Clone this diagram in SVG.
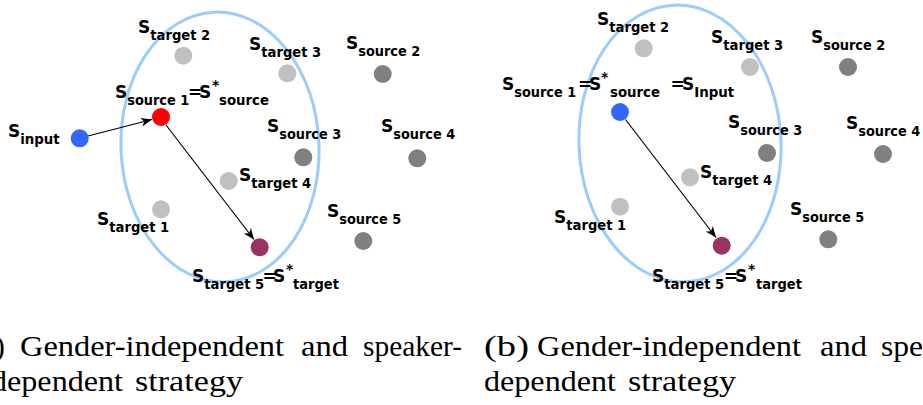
<svg xmlns="http://www.w3.org/2000/svg" width="923" height="405" viewBox="0 0 923 405">
<style>
.lbl{font-family:"DejaVu Sans",Verdana,sans-serif;font-weight:bold;font-size:17px;fill:#000}
.sub{font-size:14px}
.cap{font-family:"Liberation Serif","Times New Roman",serif;font-size:29.6px;fill:#000}
.ell{fill:none;stroke:#99ccff;stroke-width:3}
.lg{fill:#c0c0c0}.dg{fill:#808080}.bl{fill:#3366ff}.rd{fill:#ff0000}.pu{fill:#993366}
.arr{stroke:#000;stroke-width:1.2;fill:none;marker-end:url(#ah)}
</style>
<defs>
<marker id="ah" markerUnits="userSpaceOnUse" markerWidth="12" markerHeight="10" refX="11" refY="4.5" orient="auto" viewBox="0 0 12 10">
<path d="M0,0 L11,4.5 L0,9 L3,4.5 z" fill="#000"/>
</marker>
</defs>
<rect width="923" height="405" fill="#fff"/>

<!-- Panel a -->
<g id="panel-a">
<ellipse id="a-cluster" class="ell" cx="220" cy="147" rx="99" ry="135" transform="rotate(-2.5 220 147)"/>
<g id="a-connectors">
<line class="arr" x1="88" y1="136" x2="152" y2="119.5"/>
<line class="arr" x1="166" y1="125" x2="254" y2="239.5"/>
</g>
<g id="a-target2"><circle class="lg" cx="183.3" cy="55.7" r="9"/><text class="lbl" x="138" y="33">S<tspan class="sub" dy="7" textLength="60" lengthAdjust="spacingAndGlyphs">target 2</tspan></text></g>
<g id="a-target3"><circle class="lg" cx="287.3" cy="73.3" r="9"/><text class="lbl" x="249" y="50">S<tspan class="sub" dy="7" textLength="60" lengthAdjust="spacingAndGlyphs">target 3</tspan></text></g>
<g id="a-source2"><circle class="dg" cx="382.7" cy="74" r="9"/><text class="lbl" x="346" y="49">S<tspan class="sub" dy="7" textLength="62" lengthAdjust="spacingAndGlyphs">source 2</tspan></text></g>
<g id="a-source1"><circle class="rd" cx="161" cy="117" r="9"/><text class="lbl" x="115" y="98">S<tspan class="sub" dy="7" textLength="62" lengthAdjust="spacingAndGlyphs">source 1</tspan><tspan x="188" dy="-7">=</tspan><tspan x="199">S</tspan><tspan class="sub" x="212" dy="-8">*</tspan><tspan class="sub" x="219" dy="15" textLength="50" lengthAdjust="spacingAndGlyphs">source</tspan></text></g>
<g id="a-input"><circle class="bl" cx="79.7" cy="138.3" r="9"/><text class="lbl" x="8" y="137">S<tspan class="sub" dy="7" textLength="39.5" lengthAdjust="spacingAndGlyphs">input</tspan></text></g>
<g id="a-source3"><circle class="dg" cx="303.3" cy="157.3" r="9"/><text class="lbl" x="267" y="132">S<tspan class="sub" dy="7" textLength="62" lengthAdjust="spacingAndGlyphs">source 3</tspan></text></g>
<g id="a-source4"><circle class="dg" cx="417.3" cy="158.3" r="9"/><text class="lbl" x="381" y="132">S<tspan class="sub" dy="7" textLength="62" lengthAdjust="spacingAndGlyphs">source 4</tspan></text></g>
<g id="a-target4"><circle class="lg" cx="228.7" cy="181" r="9"/><text class="lbl" x="239" y="181">S<tspan class="sub" dy="7" textLength="60" lengthAdjust="spacingAndGlyphs">target 4</tspan></text></g>
<g id="a-target1"><circle class="lg" cx="161" cy="209.3" r="9"/><text class="lbl" x="97" y="225">S<tspan class="sub" dy="7" textLength="60" lengthAdjust="spacingAndGlyphs">target 1</tspan></text></g>
<g id="a-source5"><circle class="dg" cx="363.3" cy="241" r="9"/><text class="lbl" x="327" y="217">S<tspan class="sub" dy="7" textLength="62" lengthAdjust="spacingAndGlyphs">source 5</tspan></text></g>
<g id="a-target5"><circle class="pu" cx="259.7" cy="247.3" r="9"/><text class="lbl" x="192" y="282">S<tspan class="sub" dy="7" textLength="60" lengthAdjust="spacingAndGlyphs">target 5</tspan><tspan x="262.5" dy="-7">=</tspan><tspan x="273">S</tspan><tspan class="sub" x="286" dy="-8">*</tspan><tspan class="sub" x="293" dy="15" textLength="46" lengthAdjust="spacingAndGlyphs">target</tspan></text></g>
</g>

<!-- Panel b -->
<g id="panel-b">
<ellipse id="b-cluster" class="ell" cx="680" cy="143.5" rx="101" ry="138.5" transform="rotate(-2.5 680 143.5)"/>
<g id="b-connectors">
<line class="arr" x1="625.5" y1="119.5" x2="716" y2="237.5"/>
</g>
<g id="b-target2"><circle class="lg" cx="643.7" cy="48.3" r="9"/><text class="lbl" x="597" y="25">S<tspan class="sub" dy="7" textLength="60" lengthAdjust="spacingAndGlyphs">target 2</tspan></text></g>
<g id="b-target3"><circle class="lg" cx="750" cy="67" r="9"/><text class="lbl" x="711" y="43">S<tspan class="sub" dy="7" textLength="60" lengthAdjust="spacingAndGlyphs">target 3</tspan></text></g>
<g id="b-source2"><circle class="dg" cx="848" cy="67" r="9"/><text class="lbl" x="811" y="43">S<tspan class="sub" dy="7" textLength="62" lengthAdjust="spacingAndGlyphs">source 2</tspan></text></g>
<g id="b-source1"><circle class="bl" cx="620" cy="112" r="9"/><text class="lbl" x="502" y="90">S<tspan class="sub" dy="7" textLength="62" lengthAdjust="spacingAndGlyphs">source 1</tspan><tspan x="578" dy="-7">=</tspan><tspan x="589">S</tspan><tspan class="sub" x="601" dy="-8">*</tspan><tspan class="sub" x="610" dy="15" textLength="50" lengthAdjust="spacingAndGlyphs">source</tspan><tspan x="670.5" dy="-7">=</tspan><tspan x="682">S</tspan><tspan class="sub" dy="7" textLength="40" lengthAdjust="spacingAndGlyphs">Input</tspan></text></g>
<g id="b-source3"><circle class="dg" cx="767" cy="153" r="9"/><text class="lbl" x="728" y="128">S<tspan class="sub" dy="7" textLength="62" lengthAdjust="spacingAndGlyphs">source 3</tspan></text></g>
<g id="b-source4"><circle class="dg" cx="883" cy="154" r="9"/><text class="lbl" x="846" y="129">S<tspan class="sub" dy="7" textLength="62" lengthAdjust="spacingAndGlyphs">source 4</tspan></text></g>
<g id="b-target4"><circle class="lg" cx="690" cy="177.3" r="9"/><text class="lbl" x="700" y="178">S<tspan class="sub" dy="7" textLength="60" lengthAdjust="spacingAndGlyphs">target 4</tspan></text></g>
<g id="b-target1"><circle class="lg" cx="620" cy="206.7" r="9"/><text class="lbl" x="554" y="223">S<tspan class="sub" dy="7" textLength="60" lengthAdjust="spacingAndGlyphs">target 1</tspan></text></g>
<g id="b-source5"><circle class="dg" cx="828.3" cy="239.3" r="9"/><text class="lbl" x="790" y="215">S<tspan class="sub" dy="7" textLength="62" lengthAdjust="spacingAndGlyphs">source 5</tspan></text></g>
<g id="b-target5"><circle class="pu" cx="721.7" cy="245.7" r="9"/><text class="lbl" x="652" y="282">S<tspan class="sub" dy="7" textLength="60" lengthAdjust="spacingAndGlyphs">target 5</tspan><tspan x="724" dy="-7">=</tspan><tspan x="735">S</tspan><tspan class="sub" x="748" dy="-8">*</tspan><tspan class="sub" x="756" dy="15" textLength="46" lengthAdjust="spacingAndGlyphs">target</tspan></text></g>
</g>

<!-- Captions -->
<g id="captions">
<text class="cap" x="-5" y="356">)</text>
<text class="cap" x="20" y="356" textLength="264" lengthAdjust="spacingAndGlyphs">Gender-independent</text>
<text class="cap" x="301" y="356" textLength="47" lengthAdjust="spacingAndGlyphs">and</text>
<text class="cap" x="363" y="356" textLength="99" lengthAdjust="spacingAndGlyphs">speaker-</text>
<text class="cap" x="-9" y="391" textLength="132" lengthAdjust="spacingAndGlyphs">dependent</text>
<text class="cap" x="135" y="391" textLength="108" lengthAdjust="spacingAndGlyphs">strategy</text>
<text class="cap" x="484" y="356" textLength="45" lengthAdjust="spacingAndGlyphs">(b)</text>
<text class="cap" x="537" y="356" textLength="264" lengthAdjust="spacingAndGlyphs">Gender-independent</text>
<text class="cap" x="820" y="356" textLength="47" lengthAdjust="spacingAndGlyphs">and</text>
<text class="cap" x="881" y="356" textLength="42" lengthAdjust="spacingAndGlyphs">spe</text>
<text class="cap" x="484" y="391" textLength="132" lengthAdjust="spacingAndGlyphs">dependent</text>
<text class="cap" x="628" y="391" textLength="108" lengthAdjust="spacingAndGlyphs">strategy</text>
</g>
</svg>
